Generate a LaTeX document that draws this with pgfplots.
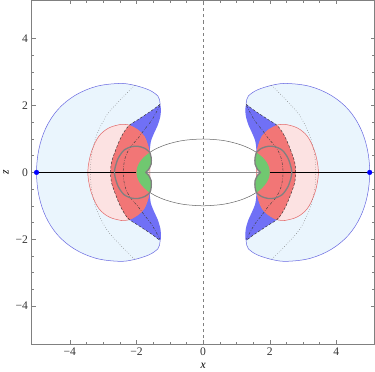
\documentclass[border=0pt]{standalone}
\usepackage{fontspec}
\setmainfont{Liberation Serif}
\usepackage{pgfplots}
\pgfplotsset{compat=1.18}
\definecolor{lightblu}{RGB}{234,245,253}
\definecolor{edgeblu}{RGB}{105,105,225}
\definecolor{midblu}{RGB}{112,112,246}
\definecolor{pinkfill}{RGB}{252,226,226}
\definecolor{pinkedge}{RGB}{228,105,105}
\definecolor{redfill}{RGB}{242,118,118}
\definecolor{greenfill}{RGB}{112,200,112}
\definecolor{framegray}{RGB}{128,128,128}

\begin{document}
\begin{tikzpicture}
\begin{axis}[
  width=340pt, height=341pt, scale only axis,
  xmin=-5.15, xmax=5.15, ymin=-5.15, ymax=5.15,
  xtick={-4,-2,0,2,4}, ytick={-4,-2,0,2,4},
  xticklabels={−4,−2,0,2,4}, yticklabels={−4,−2,0,2,4},
  minor tick num=3,
  tick align=inside,
  major tick length=4pt, minor tick length=2.2pt,
  axis line style={framegray, line width=0.6pt},
  tick style={framegray, line width=0.5pt},
  ticklabel style={font=\fontsize{11.5}{13}\selectfont, text=black!80},
  xlabel={\textit{x}}, ylabel={\textit{z}},
  label style={font=\fontsize{11.5}{13}\selectfont},
]
% vertical axis line
\addplot[framegray, dashed, line width=0.5pt] coordinates {(0,-5.15) (0,5.15)};

% light blue kidneys
\addplot[fill=lightblu, draw=none, smooth, tension=0.6] coordinates {
(1.29,2.04) (1.31,2.18) (1.36,2.29) (1.63,2.47) (2.12,2.62) (2.55,2.66) (3.22,2.57) (3.85,2.3) (4.36,1.88) (4.72,1.33) (4.93,0.69) (5,0) (4.93,-0.69) (4.72,-1.33) (4.36,-1.88) (3.85,-2.3) (3.22,-2.57) (2.55,-2.66) (2.12,-2.62) (1.63,-2.47) (1.36,-2.29) (1.31,-2.18) (1.29,-2.04) (1.27,-1.92) (1.27,-1.8) (1.29,-1.65) (1.36,-1.42) (1.47,-1.18) (1.57,-0.92) (1.6,-0.6) (1.56,-0.45) (1.56,-0.25) (1.64,-0.08) (1.72,0) (1.64,0.08) (1.56,0.25) (1.56,0.45) (1.6,0.6) (1.57,0.92) (1.47,1.18) (1.36,1.42) (1.29,1.65) (1.27,1.8) (1.27,1.92) (1.29,2.04)
} -- cycle;
\addplot[fill=lightblu, draw=none, smooth, tension=0.6] coordinates {
(-1.29,2.04) (-1.31,2.18) (-1.36,2.29) (-1.63,2.47) (-2.12,2.62) (-2.55,2.66) (-3.22,2.57) (-3.85,2.3) (-4.36,1.88) (-4.72,1.33) (-4.93,0.69) (-5,0) (-4.93,-0.69) (-4.72,-1.33) (-4.36,-1.88) (-3.85,-2.3) (-3.22,-2.57) (-2.55,-2.66) (-2.12,-2.62) (-1.63,-2.47) (-1.36,-2.29) (-1.31,-2.18) (-1.29,-2.04) (-1.27,-1.92) (-1.27,-1.8) (-1.29,-1.65) (-1.36,-1.42) (-1.47,-1.18) (-1.57,-0.92) (-1.6,-0.6) (-1.56,-0.45) (-1.56,-0.25) (-1.64,-0.08) (-1.72,0) (-1.64,0.08) (-1.56,0.25) (-1.56,0.45) (-1.6,0.6) (-1.57,0.92) (-1.47,1.18) (-1.36,1.42) (-1.29,1.65) (-1.27,1.8) (-1.27,1.92) (-1.29,2.04)
} -- cycle;

% blue regions
\addplot[fill=midblu, draw=none, smooth, tension=0.5] coordinates {
(1.29,2.04) (1.27,1.92) (1.27,1.8) (1.29,1.65) (1.36,1.42) (1.47,1.18) (1.57,0.92) (1.6,0.6) (1.56,0.45) (1.56,0.25) (1.64,0.08) (1.72,0) (1.64,-0.08) (1.56,-0.25) (1.56,-0.45) (1.6,-0.6) (1.57,-0.92) (1.47,-1.18) (1.36,-1.42) (1.29,-1.65) (1.27,-1.8) (1.27,-1.92) (1.29,-2.04) (1.5,-1.88) (1.77,-1.7) (2.0,-1.55) (2.22,-1.41) (2.38,-1.2) (2.52,-0.93) (2.67,-0.55) (2.75,-0.3) (2.78,0) (2.75,0.3) (2.67,0.55) (2.52,0.93) (2.38,1.2) (2.22,1.41) (2.0,1.55) (1.77,1.7) (1.5,1.88) (1.29,2.04)
} -- cycle;
\addplot[fill=midblu, draw=none, smooth, tension=0.5] coordinates {
(-1.29,2.04) (-1.27,1.92) (-1.27,1.8) (-1.29,1.65) (-1.36,1.42) (-1.47,1.18) (-1.57,0.92) (-1.6,0.6) (-1.56,0.45) (-1.56,0.25) (-1.64,0.08) (-1.72,0) (-1.64,-0.08) (-1.56,-0.25) (-1.56,-0.45) (-1.6,-0.6) (-1.57,-0.92) (-1.47,-1.18) (-1.36,-1.42) (-1.29,-1.65) (-1.27,-1.8) (-1.27,-1.92) (-1.29,-2.04) (-1.5,-1.88) (-1.77,-1.7) (-2.0,-1.55) (-2.22,-1.41) (-2.38,-1.2) (-2.52,-0.93) (-2.67,-0.55) (-2.75,-0.3) (-2.78,0) (-2.75,0.3) (-2.67,0.55) (-2.52,0.93) (-2.38,1.2) (-2.22,1.41) (-2.0,1.55) (-1.77,1.7) (-1.5,1.88) (-1.29,2.04)
} -- cycle;

% pink regions
\addplot[fill=pinkfill, draw=pinkedge, line width=0.5pt, smooth, tension=0.6] coordinates {
(1.6,0) (1.6,0.55) (1.65,0.78) (1.77,1.08) (1.97,1.28) (2.27,1.43) (2.45,1.44) (2.83,1.33) (3.13,1.08) (3.33,0.68) (3.43,0.3) (3.46,0) (3.43,-0.3) (3.33,-0.68) (3.13,-1.08) (2.83,-1.33) (2.45,-1.44) (2.27,-1.43) (1.97,-1.28) (1.77,-1.08) (1.65,-0.78) (1.6,-0.55) (1.6,0)
} -- cycle;
\addplot[fill=pinkfill, draw=pinkedge, line width=0.5pt, smooth, tension=0.6] coordinates {
(-1.6,0) (-1.6,0.55) (-1.65,0.78) (-1.77,1.08) (-1.97,1.28) (-2.27,1.43) (-2.45,1.44) (-2.83,1.33) (-3.13,1.08) (-3.33,0.68) (-3.43,0.3) (-3.46,0) (-3.43,-0.3) (-3.33,-0.68) (-3.13,-1.08) (-2.83,-1.33) (-2.45,-1.44) (-2.27,-1.43) (-1.97,-1.28) (-1.77,-1.08) (-1.65,-0.78) (-1.6,-0.55) (-1.6,0)
} -- cycle;

% red regions
\addplot[fill=redfill, draw=none, smooth, tension=0.5] coordinates {
(2.22,1.41) (2.38,1.2) (2.52,0.93) (2.67,0.55) (2.75,0.3) (2.78,0) (2.75,-0.3) (2.67,-0.55) (2.52,-0.93) (2.38,-1.2) (2.22,-1.41) (1.97,-1.28) (1.77,-1.08) (1.65,-0.78) (1.6,-0.6) (1.56,-0.45) (1.56,-0.25) (1.64,-0.08) (1.72,0) (1.64,0.08) (1.56,0.25) (1.56,0.45) (1.6,0.6) (1.65,0.78) (1.77,1.08) (1.97,1.28) (2.22,1.41)
} -- cycle;
\addplot[fill=redfill, draw=none, smooth, tension=0.5] coordinates {
(-2.22,1.41) (-2.38,1.2) (-2.52,0.93) (-2.67,0.55) (-2.75,0.3) (-2.78,0) (-2.75,-0.3) (-2.67,-0.55) (-2.52,-0.93) (-2.38,-1.2) (-2.22,-1.41) (-1.97,-1.28) (-1.77,-1.08) (-1.65,-0.78) (-1.6,-0.6) (-1.56,-0.45) (-1.56,-0.25) (-1.64,-0.08) (-1.72,0) (-1.64,0.08) (-1.56,0.25) (-1.56,0.45) (-1.6,0.6) (-1.65,0.78) (-1.77,1.08) (-1.97,1.28) (-2.22,1.41)
} -- cycle;

% green lenses
\addplot[fill=greenfill, draw=none, smooth, tension=0.5] coordinates {
(1.6,0.6) (1.56,0.45) (1.56,0.25) (1.64,0.08) (1.72,0) (1.64,-0.08) (1.56,-0.25) (1.56,-0.45) (1.6,-0.6) (1.786,-0.45) (1.908,-0.3) (1.977,-0.15) (2,0) (1.977,0.15) (1.908,0.3) (1.786,0.45) (1.6,0.6)
} -- cycle;
\addplot[fill=greenfill, draw=none, smooth, tension=0.5] coordinates {
(-1.6,0.6) (-1.56,0.45) (-1.56,0.25) (-1.64,0.08) (-1.72,0) (-1.64,-0.08) (-1.56,-0.25) (-1.56,-0.45) (-1.6,-0.6) (-1.786,-0.45) (-1.908,-0.3) (-1.977,-0.15) (-2,0) (-1.977,0.15) (-1.908,0.3) (-1.786,0.45) (-1.6,0.6)
} -- cycle;

% outer kidney edges
\addplot[edgeblu, line width=0.5pt, smooth, tension=0.6] coordinates {
(1.29,2.04) (1.31,2.18) (1.36,2.29) (1.63,2.47) (2.12,2.62) (2.55,2.66) (3.22,2.57) (3.85,2.3) (4.36,1.88) (4.72,1.33) (4.93,0.69) (5,0) (4.93,-0.69) (4.72,-1.33) (4.36,-1.88) (3.85,-2.3) (3.22,-2.57) (2.55,-2.66) (2.12,-2.62) (1.63,-2.47) (1.36,-2.29) (1.31,-2.18) (1.29,-2.04)
};
\addplot[edgeblu, line width=0.5pt, smooth, tension=0.6] coordinates {
(-1.29,2.04) (-1.31,2.18) (-1.36,2.29) (-1.63,2.47) (-2.12,2.62) (-2.55,2.66) (-3.22,2.57) (-3.85,2.3) (-4.36,1.88) (-4.72,1.33) (-4.93,0.69) (-5,0) (-4.93,-0.69) (-4.72,-1.33) (-4.36,-1.88) (-3.85,-2.3) (-3.22,-2.57) (-2.55,-2.66) (-2.12,-2.62) (-1.63,-2.47) (-1.36,-2.29) (-1.31,-2.18) (-1.29,-2.04)
};

% dotted curves
\addplot[black!55, dotted, line width=0.5pt, smooth] coordinates {
(2.05,2.61) (2.47,2.19) (2.9,1.7) (3.2,1.1) (3.35,0.5) (3.38,0) (3.35,-0.5) (3.2,-1.1) (2.9,-1.7) (2.47,-2.19) (2.05,-2.61)
};
\addplot[black!55, dotted, line width=0.5pt, smooth] coordinates {
(-2.05,2.61) (-2.47,2.19) (-2.9,1.7) (-3.2,1.1) (-3.35,0.5) (-3.38,0) (-3.35,-0.5) (-3.2,-1.1) (-2.9,-1.7) (-2.47,-2.19) (-2.05,-2.61)
};

% dash-dotted curves
\addplot[black!75, dash pattern=on 2.5pt off 1.5pt on 0.6pt off 1.5pt, line width=0.45pt, smooth] coordinates {
(1.3,2.0) (1.36,1.88) (1.55,1.55) (1.77,1.27) (1.97,1.0) (2.15,0.8) (2.3,0.55) (2.37,0.3) (2.4,0) (2.37,-0.3) (2.3,-0.55) (2.15,-0.8) (1.97,-1.0) (1.77,-1.27) (1.55,-1.55) (1.36,-1.88) (1.3,-2.0)
};
\addplot[black!75, dash pattern=on 2.5pt off 1.5pt on 0.6pt off 1.5pt, line width=0.45pt, smooth] coordinates {
(-1.3,2.0) (-1.36,1.88) (-1.55,1.55) (-1.77,1.27) (-1.97,1.0) (-2.15,0.8) (-2.3,0.55) (-2.37,0.3) (-2.4,0) (-2.37,-0.3) (-2.3,-0.55) (-2.15,-0.8) (-1.97,-1.0) (-1.77,-1.27) (-1.55,-1.55) (-1.36,-1.88) (-1.3,-2.0)
};

% dashed boundaries
\addplot[black!80, dash pattern=on 2.5pt off 1.8pt, line width=0.45pt, smooth, tension=0.5] coordinates {
(1.29,2.04) (1.5,1.88) (1.77,1.7) (2.0,1.55) (2.22,1.41) (2.38,1.2) (2.52,0.93) (2.67,0.55) (2.75,0.3) (2.78,0) (2.75,-0.3) (2.67,-0.55) (2.52,-0.93) (2.38,-1.2) (2.22,-1.41) (2.0,-1.55) (1.77,-1.7) (1.5,-1.88) (1.29,-2.04)
};
\addplot[black!80, dash pattern=on 2.5pt off 1.8pt, line width=0.45pt, smooth, tension=0.5] coordinates {
(-1.29,2.04) (-1.5,1.88) (-1.77,1.7) (-2.0,1.55) (-2.22,1.41) (-2.38,1.2) (-2.52,0.93) (-2.67,0.55) (-2.75,0.3) (-2.78,0) (-2.75,-0.3) (-2.67,-0.55) (-2.52,-0.93) (-2.38,-1.2) (-2.22,-1.41) (-2.0,-1.55) (-1.77,-1.7) (-1.5,-1.88) (-1.29,-2.04)
};

% thin ellipse
\addplot[black!60, line width=0.5pt, smooth] coordinates {
(1.6,0.6) (1.414,0.707) (1.147,0.819) (0.845,0.906) (0.518,0.966) (0,1) (-0.518,0.966) (-0.845,0.906) (-1.147,0.819) (-1.414,0.707) (-1.6,0.6)
};
\addplot[black!60, line width=0.5pt, smooth] coordinates {
(1.6,-0.6) (1.414,-0.707) (1.147,-0.819) (0.845,-0.906) (0.518,-0.966) (0,-1) (-0.518,-0.966) (-0.845,-0.906) (-1.147,-0.819) (-1.414,-0.707) (-1.6,-0.6)
};

% axis segments
\addplot[black!45, line width=0.9pt] coordinates {(-1.72,0) (1.72,0)};
\addplot[black, line width=1.4pt] coordinates {(2,0) (5,0)};
\addplot[black, line width=1.4pt] coordinates {(-5,0) (-2,0)};

% thick gray loops
\addplot[black!50, line width=1.3pt, smooth, tension=0.5] coordinates {
(1.6,0.6) (1.56,0.45) (1.56,0.25) (1.64,0.08) (1.72,0) (1.64,-0.08) (1.56,-0.25) (1.56,-0.45) (1.6,-0.6) (1.75,-0.72) (1.95,-0.78) (2.15,-0.77) (2.38,-0.66) (2.55,-0.42) (2.64,-0.15) (2.66,0) (2.64,0.15) (2.55,0.42) (2.38,0.66) (2.15,0.77) (1.95,0.78) (1.75,0.72) (1.6,0.6)
};
\addplot[black!50, line width=1.3pt, smooth, tension=0.5] coordinates {
(-1.6,0.6) (-1.56,0.45) (-1.56,0.25) (-1.64,0.08) (-1.72,0) (-1.64,-0.08) (-1.56,-0.25) (-1.56,-0.45) (-1.6,-0.6) (-1.75,-0.72) (-1.95,-0.78) (-2.15,-0.77) (-2.38,-0.66) (-2.55,-0.42) (-2.64,-0.15) (-2.66,0) (-2.64,0.15) (-2.55,0.42) (-2.38,0.66) (-2.15,0.77) (-1.95,0.78) (-1.75,0.72) (-1.6,0.6)
};

% end points
\addplot[only marks, mark=*, mark size=2.3pt, color=blue] coordinates {(-5,0) (5,0)};
\end{axis}
\end{tikzpicture}
\end{document}
